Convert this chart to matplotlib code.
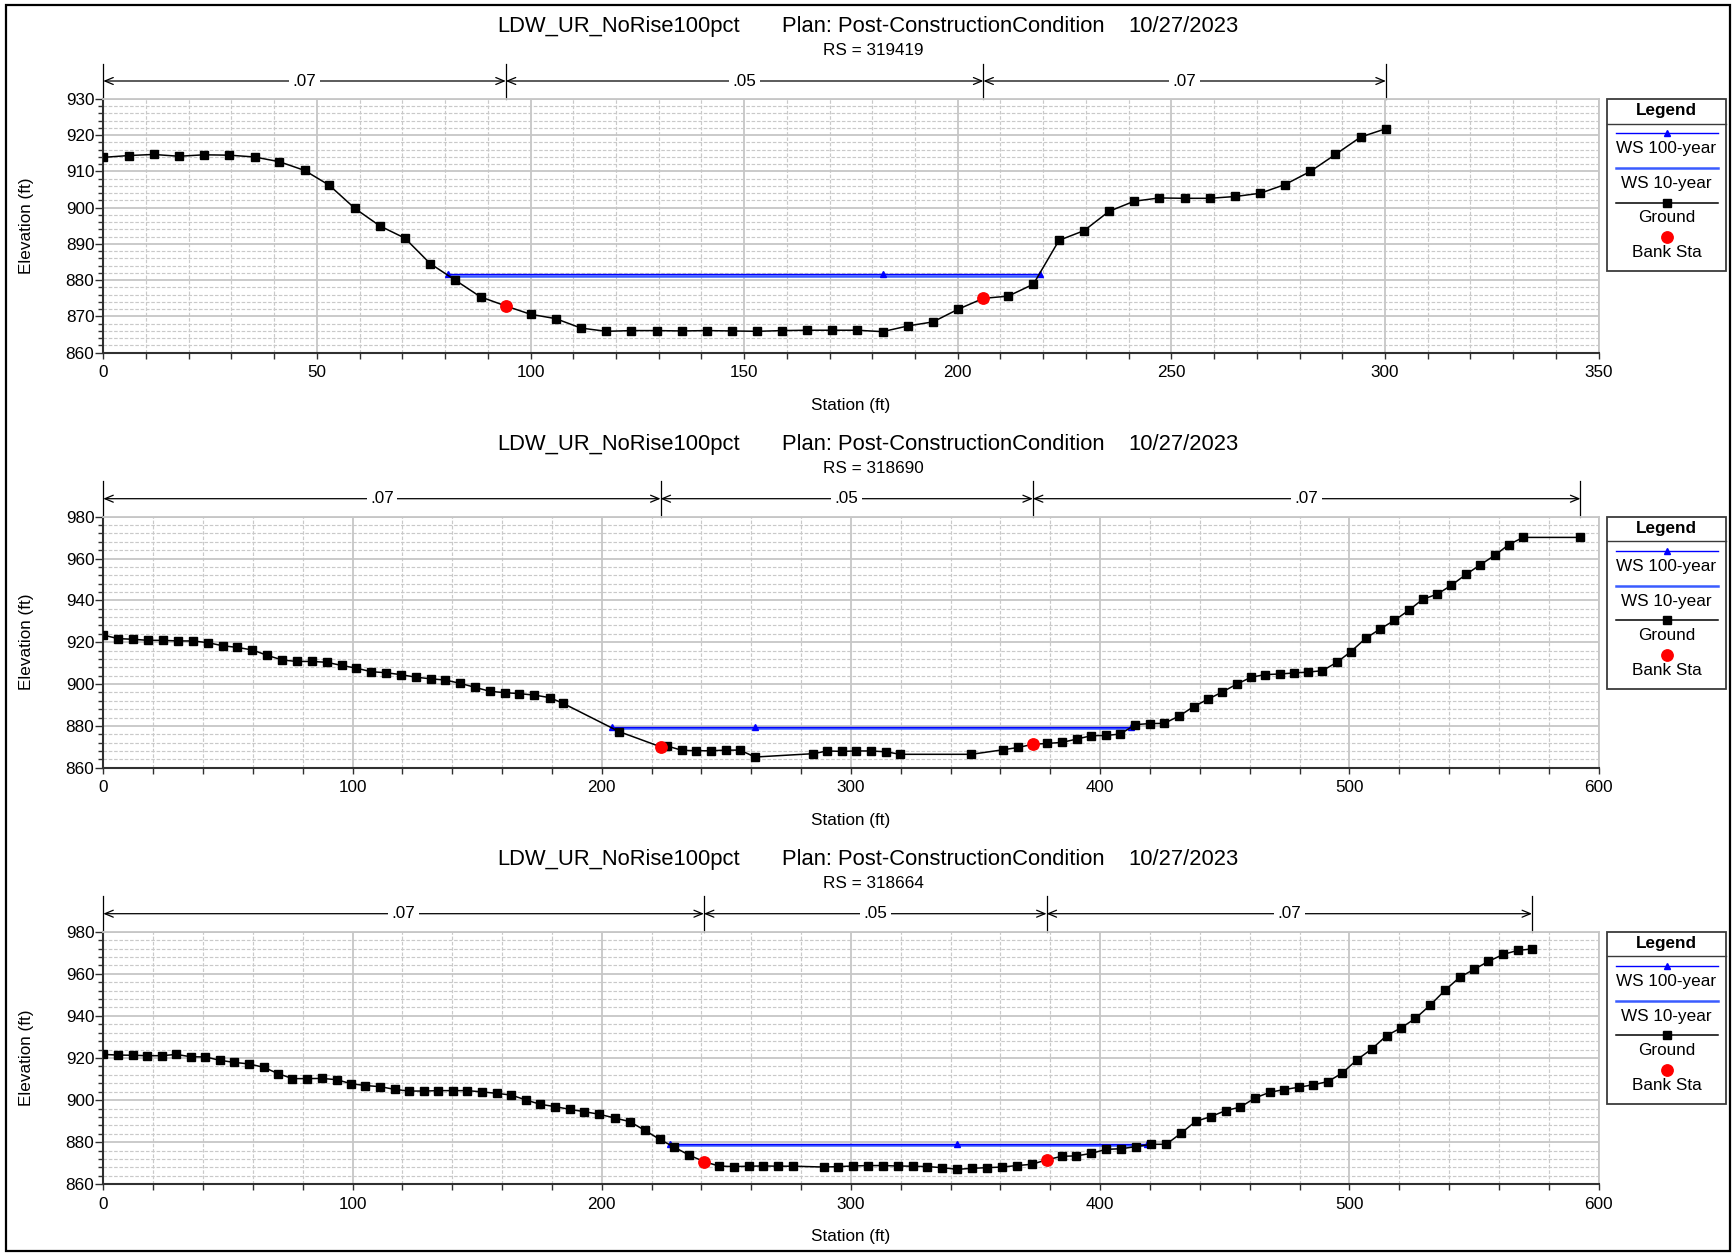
import matplotlib
matplotlib.use("Agg")
import matplotlib.pyplot as plt
from matplotlib.lines import Line2D
from matplotlib.patches import Rectangle
from matplotlib.transforms import blended_transform_factory
import matplotlib.ticker as mticker

plt.rcParams['font.family'] = ['Liberation Sans', 'DejaVu Sans']

# ---------------- data ----------------
title_project = "LDW_UR_NoRise100pct"
title_plan = "Plan: Post-ConstructionCondition"
title_date = "10/27/2023"
river_stations = ["319419", "318690", "318664"]

# RS 319419
sta1 = [0, 6.0, 11.8, 17.7, 23.5, 29.5, 35.4, 41.2, 47.1, 52.9, 58.9, 64.7, 70.6, 76.5, 82.4, 88.3,
        94.2, 100.0, 105.9, 111.8, 117.7, 123.6, 129.5, 135.4, 141.2, 147.1, 153.0, 158.9, 164.8,
        170.6, 176.5, 182.4, 188.4, 194.2, 200.1, 206.0, 211.8, 217.7, 223.7, 229.6, 235.4, 241.3,
        247.2, 253.1, 259.0, 265.0, 270.8, 276.6, 282.5, 288.4, 294.3, 300.2]
elev1 = [913.9, 914.4, 914.7, 914.2, 914.6, 914.5, 914.0, 912.7, 910.3, 906.2, 899.8, 895.0, 891.6,
         884.6, 880.0, 875.4, 872.9, 870.6, 869.4, 866.8, 865.9, 866.1, 866.1, 866.0, 866.1, 866.0,
         865.9, 866.1, 866.2, 866.2, 866.2, 865.8, 867.4, 868.5, 872.0, 875.0, 875.6, 878.9, 891.0,
         893.7, 899.0, 901.8, 902.7, 902.6, 902.6, 903.1, 904.0, 906.4, 910.0, 914.7, 919.5, 921.8]
bank_sta1 = [94.2, 206.0]
bank_elev1 = [872.9, 875.0]
ws100_sta1 = [80.6, 182.4, 219.2]
ws100_elev1 = [881.7, 881.7, 881.7]
ws10_sta1 = [80.9, 219.0]
ws10_elev1 = [881.2, 881.2]
n_bounds1 = [0, 94.2, 206.0, 300.2]
n_vals1 = [".07", ".05", ".07"]

# RS 318690
sta2 = [0, 6.0, 12.0, 17.9, 23.9, 29.9, 35.9, 41.9, 47.9, 53.8, 59.8, 65.8, 71.8, 77.6, 83.6, 89.6,
        95.6, 101.5, 107.5, 113.5, 119.3, 125.3, 131.3, 137.3, 143.3, 149.2, 155.2, 161.0, 167.0,
        173.0, 179.2, 184.6, 207.1, 223.6, 226.2, 232.2, 238.0, 243.9, 249.7, 255.5, 261.5, 284.8,
        290.5, 296.3, 302.1, 308.1, 314.0, 319.8, 348.3, 361.2, 367.2, 373.0, 378.8, 384.7, 390.6,
        396.5, 402.3, 408.1, 414.1, 420.0, 425.7, 431.7, 437.5, 443.2, 449.0, 454.9, 460.7, 466.2,
        472.0, 477.8, 483.5, 489.2, 495.0, 500.6, 506.5, 512.3, 518.0, 523.8, 529.4, 535.3, 540.9,
        546.8, 552.4, 558.3, 563.9, 569.7, 592.7]
elev2 = [923.4, 921.7, 921.4, 920.9, 920.9, 920.6, 920.6, 919.8, 918.3, 917.5, 916.3, 913.7, 911.5,
         910.8, 910.8, 910.4, 908.9, 907.6, 905.9, 905.4, 904.5, 903.3, 902.5, 901.9, 900.3, 898.4,
         896.5, 895.9, 895.4, 894.7, 893.5, 890.7, 877.2, 870.0, 870.4, 868.3, 868.1, 868.1, 868.4,
         868.4, 865.1, 866.7, 868.0, 867.8, 868.0, 868.0, 867.6, 866.4, 866.4, 868.6, 869.7, 871.2,
         871.6, 872.1, 873.7, 875.3, 875.4, 876.1, 880.6, 881.1, 881.2, 884.7, 889.2, 892.7, 896.2,
         900.0, 903.3, 904.5, 904.8, 905.3, 905.7, 906.4, 910.4, 915.5, 921.8, 926.3, 930.4, 935.2,
         940.5, 943.0, 947.2, 952.4, 956.9, 961.5, 966.6, 970.1, 970.1]
bank_sta2 = [223.6, 373.0]
bank_elev2 = [870.0, 871.2]
ws100_sta2 = [204.3, 261.5, 412.3]
ws100_elev2 = [879.5, 879.5, 879.5]
ws10_sta2 = [204.6, 412.0]
ws10_elev2 = [879.2, 879.2]
n_bounds2 = [0, 223.6, 373.0, 592.7]
n_vals2 = [".07", ".05", ".07"]

# RS 318664
sta3 = [0, 6.0, 11.8, 17.6, 23.5, 29.3, 35.1, 41.0, 46.8, 52.6, 58.4, 64.3, 70.1, 75.9, 81.7, 87.7,
        93.6, 99.4, 105.2, 111.0, 116.9, 122.7, 128.5, 134.4, 140.2, 146.0, 152.0, 157.8, 163.7,
        169.5, 175.3, 181.3, 187.2, 193.0, 198.9, 205.2, 211.2, 217.2, 223.2, 229.0, 235.0, 241.0,
        247.0, 252.9, 258.9, 264.9, 270.9, 276.9, 289.0, 294.8, 300.8, 306.7, 312.7, 318.7, 324.7,
        330.7, 336.7, 342.6, 348.6, 354.6, 360.6, 366.6, 372.5, 378.5, 384.5, 390.5, 396.5, 402.4,
        408.4, 414.4, 420.4, 426.5, 432.4, 438.3, 444.3, 450.3, 456.3, 462.1, 468.0, 473.8, 479.6,
        485.6, 491.4, 497.2, 503.1, 509.1, 514.9, 520.7, 526.5, 532.5, 538.3, 544.2, 550.0, 555.8,
        561.7, 567.5, 573.3]
elev3 = [921.7, 921.4, 921.3, 921.1, 921.1, 921.7, 920.6, 920.5, 918.9, 917.9, 917.2, 915.6, 912.6,
         910.2, 910.2, 910.3, 909.7, 907.8, 906.9, 906.4, 905.1, 904.3, 904.3, 904.5, 904.5, 904.5,
         903.9, 903.2, 902.4, 900.1, 898.0, 896.9, 895.6, 894.5, 893.3, 891.5, 889.8, 885.7, 881.4,
         877.7, 873.9, 870.8, 868.7, 868.4, 868.6, 868.7, 868.6, 868.6, 868.2, 868.4, 868.7, 868.9,
         868.9, 868.7, 868.6, 868.4, 867.9, 867.1, 867.6, 867.9, 868.2, 868.9, 869.5, 871.6, 873.3,
         873.5, 874.7, 876.6, 876.9, 877.9, 879.0, 879.0, 884.2, 889.9, 892.1, 895.0, 896.7, 901.0,
         903.7, 905.0, 906.1, 907.3, 908.8, 912.9, 919.2, 924.4, 930.6, 934.3, 938.8, 945.2, 952.1,
         958.3, 962.1, 965.9, 969.2, 971.1, 971.8]
bank_sta3 = [241.0, 378.5]
bank_elev3 = [870.8, 871.6]
ws100_sta3 = [227.5, 342.6, 418.8]
ws100_elev3 = [879.0, 879.0, 879.0]
ws10_sta3 = [227.8, 418.5]
ws10_elev3 = [878.8, 878.8]
n_bounds3 = [0, 241.0, 378.5, 573.3]
n_vals3 = [".07", ".05", ".07"]

legend_labels = ["WS 100-year", "WS 10-year", "Ground", "Bank Sta"]

# ---------------- styles ----------------
W, H = 1732, 1254
DPI = 100
C_WS100 = "#0000ff"
C_WS10 = "#3a5cff"
C_GROUND = "#000000"
C_BANK = "#ff0000"
C_AXIS = "#303030"
C_GRID_MAJ = "#c6c6c6"
C_GRID_MIN = "#c9c9c9"
FS = 12.3
MS_GROUND = 5.6
MS_BANK = 8.2

fig = plt.figure(figsize=(W / DPI, H / DPI), dpi=DPI)


def fx(x):
    return x / W


def fy(y):
    return 1 - y / H


AX_L, AX_R = 103.3, 1598.6

panels = [
    dict(top=99.0, bot=352.7, xlim=(0, 350), ylim=(860, 930), xmaj=50, xmin=10, ymaj=10, ymin=2,
         sta=sta1, elev=elev1, bsta=bank_sta1, belev=bank_elev1, w1s=ws100_sta1, w1e=ws100_elev1,
         w2s=ws10_sta1, w2e=ws10_elev1, nb=n_bounds1, nv=n_vals1, rs=river_stations[0]),
    dict(top=516.7, bot=767.7, xlim=(0, 600), ylim=(860, 980), xmaj=100, xmin=20, ymaj=20, ymin=4,
         sta=sta2, elev=elev2, bsta=bank_sta2, belev=bank_elev2, w1s=ws100_sta2, w1e=ws100_elev2,
         w2s=ws10_sta2, w2e=ws10_elev2, nb=n_bounds2, nv=n_vals2, rs=river_stations[1]),
    dict(top=931.7, bot=1184.3, xlim=(0, 600), ylim=(860, 980), xmaj=100, xmin=20, ymaj=20, ymin=4,
         sta=sta3, elev=elev3, bsta=bank_sta3, belev=bank_elev3, w1s=ws100_sta3, w1e=ws100_elev3,
         w2s=ws10_sta3, w2e=ws10_elev3, nb=n_bounds3, nv=n_vals3, rs=river_stations[2]),
]

for p in panels:
    top, bot = p["top"], p["bot"]
    h = bot - top
    ax = fig.add_axes([fx(AX_L), fy(bot), (AX_R - AX_L) / W, h / H])
    ax.set_xlim(*p["xlim"])
    ax.set_ylim(*p["ylim"])
    ax.set_axisbelow(True)
    ax.xaxis.set_major_locator(mticker.MultipleLocator(p["xmaj"]))
    ax.xaxis.set_minor_locator(mticker.MultipleLocator(p["xmin"]))
    ax.yaxis.set_major_locator(mticker.MultipleLocator(p["ymaj"]))
    ax.yaxis.set_minor_locator(mticker.MultipleLocator(p["ymin"]))
    ax.grid(which="minor", color=C_GRID_MIN, lw=0.85, ls=(0, (3, 1.5)))
    ax.grid(which="major", color=C_GRID_MAJ, lw=1.3, ls="-")
    for s in ("left", "bottom"):
        ax.spines[s].set_color(C_AXIS)
        ax.spines[s].set_linewidth(1.5)
    for s in ("top", "right"):
        ax.spines[s].set_color(C_GRID_MAJ)
        ax.spines[s].set_linewidth(1.3)
    ax.tick_params(axis="x", which="both", direction="out", length=4.1, width=1.0, color=C_AXIS,
                   pad=4.7, labelsize=FS)
    ax.tick_params(axis="y", which="major", direction="out", length=5.5, width=1.0, color=C_AXIS,
                   pad=0.9, labelsize=FS)
    ax.tick_params(axis="y", which="minor", direction="out", length=3.3, width=1.0, color=C_AXIS)

    # data
    ax.plot(p["w2s"], p["w2e"], color=C_WS10, lw=1.8, zorder=3)
    ax.plot(p["w1s"], p["w1e"], color=C_WS100, lw=1.0, marker="^", ms=4.8, zorder=3.2)
    ax.plot(p["sta"], p["elev"], color=C_GROUND, lw=1.1, marker="s", ms=MS_GROUND, zorder=4)
    ax.plot(p["bsta"], p["belev"], ls="none", marker="o", ms=MS_BANK, color=C_BANK, zorder=5)

    # Manning's n bar
    trans = blended_transform_factory(ax.transData, ax.transAxes)
    y_arr = 1 + 18.0 / h
    y_vt = 1 + 35.5 / h
    for b in p["nb"]:
        ax.plot([b, b], [1, y_vt], transform=trans, color="black", lw=0.9, clip_on=False)
    for i, lab in enumerate(p["nv"]):
        x0, x1 = p["nb"][i], p["nb"][i + 1]
        ax.annotate("", xy=(x1, y_arr), xytext=(x0, y_arr), xycoords=trans, textcoords=trans,
                    arrowprops=dict(arrowstyle="<->,head_length=0.6,head_width=0.25", color="black",
                                    lw=0.9, shrinkA=0, shrinkB=0), annotation_clip=False)
        ax.text((x0 + x1) / 2, y_arr, lab, transform=trans, ha="center", va="center", fontsize=FS,
                bbox=dict(fc="white", ec="none", pad=2.5), zorder=6)

    # titles
    fig.text(fx(618.9), fy(top - 67.0), title_project, ha="center", va="baseline", fontsize=15.8)
    fig.text(fx(943.6), fy(top - 67.0), title_plan, ha="center", va="baseline", fontsize=15.8)
    fig.text(fx(1184.0), fy(top - 67.0), title_date, ha="center", va="baseline", fontsize=15.8)
    fig.text(fx(873.4), fy(top - 43.6), "RS = " + p["rs"], ha="center", va="baseline", fontsize=FS)

    # axis labels
    fig.text(fx(26.5), fy((top + bot) / 2), "Elevation (ft)", rotation=90, ha="center", va="center",
             fontsize=FS)
    fig.text(fx(851.0), fy(bot + 52.7), "Station (ft)", ha="center", va="center", fontsize=FS)

    # legend box
    LX0, LX1 = 1607.0, 1726.0
    fig.add_artist(Rectangle((fx(LX0), fy(top + 172.3)), (LX1 - LX0) / W, 172.3 / H,
                             transform=fig.transFigure, fill=False, ec="#3a3a3a", lw=1.3))
    fig.add_artist(Line2D([fx(LX0), fx(LX1)], [fy(top + 24.6)] * 2, transform=fig.transFigure,
                          color="#3a3a3a", lw=1.0))
    fig.text(fx((LX0 + LX1) / 2), fy(top + 11.5), "Legend", ha="center", va="center",
             fontsize=FS, fontweight="bold")
    lx0, lx1, lxc = 1616.0, 1718.0, (LX0 + LX1) / 2
    fig.add_artist(Line2D([fx(lx0), fx(lx1)], [fy(top + 34.3)] * 2, transform=fig.transFigure,
                          color=C_WS100, lw=1.0))
    fig.add_artist(Line2D([fx(lxc)], [fy(top + 34.3)], transform=fig.transFigure, color=C_WS100,
                          marker="^", ms=4.8, ls="none"))
    fig.add_artist(Line2D([fx(lx0), fx(lx1)], [fy(top + 69.0)] * 2, transform=fig.transFigure,
                          color=C_WS10, lw=1.8))
    fig.add_artist(Line2D([fx(lx0), fx(lx1)], [fy(top + 103.6)] * 2, transform=fig.transFigure,
                          color=C_GROUND, lw=1.1))
    fig.add_artist(Line2D([fx(lxc)], [fy(top + 103.6)], transform=fig.transFigure, color=C_GROUND,
                          marker="s", ms=MS_GROUND, ls="none"))
    fig.add_artist(Line2D([fx(lxc)], [fy(top + 138.0)], transform=fig.transFigure, color=C_BANK,
                          marker="o", ms=MS_BANK, ls="none"))
    for lab, dy in zip(legend_labels, [49.6, 84.6, 118.6, 153.6]):
        fig.text(fx(lxc), fy(top + dy), lab, ha="center", va="center", fontsize=FS)

# outer border
fig.add_artist(Rectangle((fx(5.7), fy(1251.0)), (1729.5 - 5.7) / W, (1251.0 - 5.0) / H,
                         transform=fig.transFigure, fill=False, ec="black", lw=1.6))

fig.savefig("out.png", dpi=DPI, facecolor="white")
